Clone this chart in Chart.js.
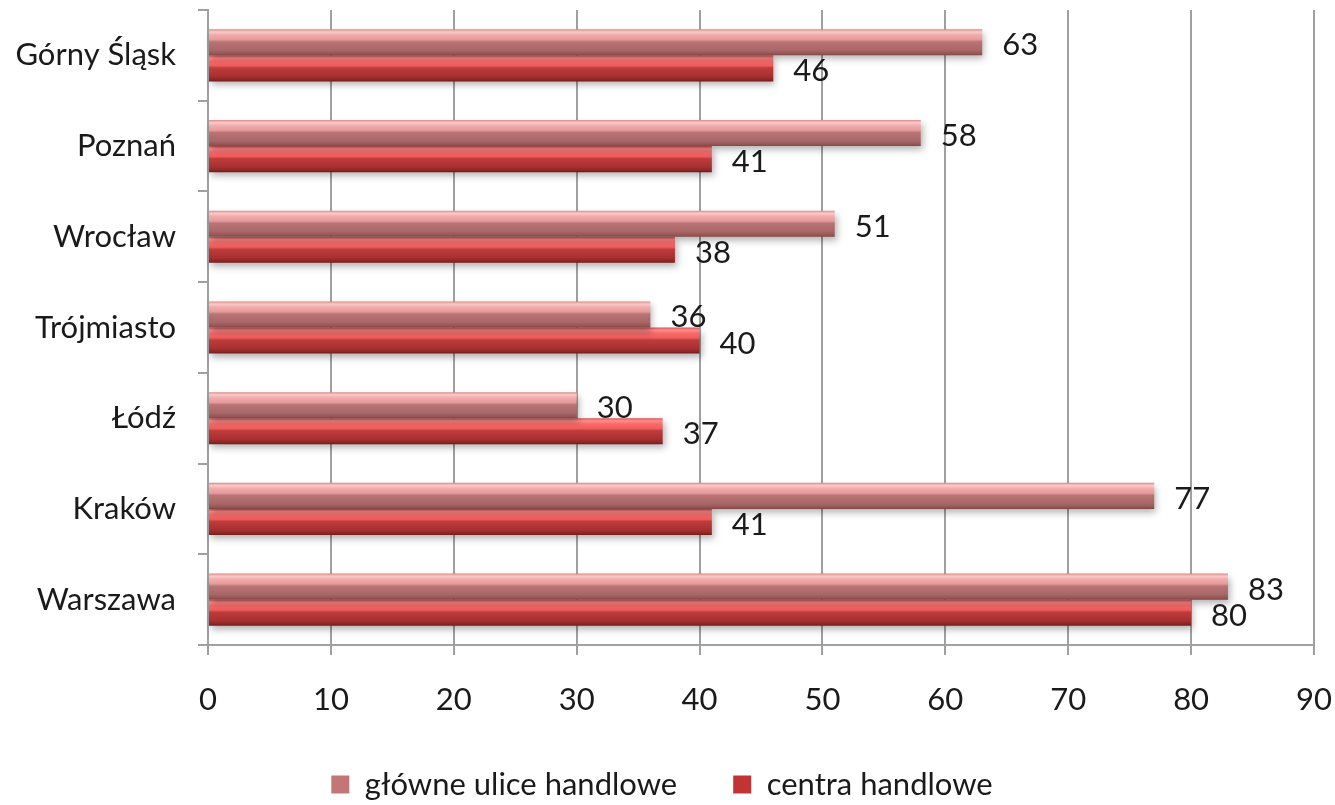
<!DOCTYPE html>
<html>
<head>
<meta charset="utf-8">
<script src="https://cdn.jsdelivr.net/npm/chart.js@4/dist/chart.umd.min.js"></script>
<style>
html,body{margin:0;padding:0;background:#fff;}
#wrap{width:1335px;height:805px;}
</style>
</head>
<body>
<div id="wrap"><canvas id="c" width="1335" height="805"></canvas></div>
<script>
const categories = ['Górny Śląsk','Poznań','Wrocław','Trójmiasto','Łódź','Kraków','Warszawa'];
const glowneUlice = [63,58,51,36,30,77,83];
const centraHandlowe = [46,41,38,40,37,41,80];
const seriesNames = ['główne ulice handlowe','centra handlowe'];
const xTicks = [0,10,20,30,40,50,60,70,80,90];

const FONT = 'Lato, "Open Sans", sans-serif';
const FS = 31;

const palettes = [
  [[0,'#d98a8a'],[0.1,'#fbcaca'],[0.22,'#f2abab'],[0.4,'#e49a9a'],[0.48,'#b97474'],[0.8,'#a96767'],[0.93,'#965656'],[1,'#7e4646']],
  [[0,'#d85252'],[0.1,'#ff8e8e'],[0.22,'#f96a6a'],[0.4,'#ef5c5c'],[0.48,'#bf3b3b'],[0.8,'#a83030'],[0.93,'#8c2626'],[1,'#6e1c1c']]
];

const barStyle = {
  id:'barStyle',
  beforeLayout(chart){
    const lg = chart.legend;
    if (lg && !lg._patched){
      const orig = lg.fit;
      lg.fit = function(){ orig.call(this); this.height = 92; };
      lg._patched = true;
    }
  },
  beforeDatasetDraw(chart, args){
    const ctx = chart.ctx;
    const meta = args.meta;
    const pal = palettes[args.index];
    const area = chart.chartArea;
    meta.data.forEach(el=>{
      const top = el.y - el.height/2, bot = el.y + el.height/2;
      const g = ctx.createLinearGradient(0, top, 0, bot);
      pal.forEach(s=>g.addColorStop(s[0], s[1]));
      el.options.backgroundColor = g;
      ctx.save();
      ctx.shadowColor = 'rgba(0,0,0,0.30)';
      ctx.shadowBlur = 7;
      ctx.shadowOffsetY = 4;
      ctx.shadowOffsetX = 2;
      el.draw(ctx, area);
      ctx.restore();
    });
    return false;
  },
  afterDatasetsDraw(chart){
    const ctx = chart.ctx;
    ctx.save();
    ctx.font = FS + 'px ' + FONT;
    ctx.fillStyle = '#1a1a1a';
    ctx.textAlign = 'left';
    ctx.textBaseline = 'middle';
    chart.data.datasets.forEach((ds, i)=>{
      const meta = chart.getDatasetMeta(i);
      meta.data.forEach((el, j)=>{
        ctx.fillText(String(ds.data[j]), el.x + 20, el.y + 3);
      });
    });
    ctx.restore();
  }
};

new Chart(document.getElementById('c'), {
  type:'bar',
  data:{
    labels: categories,
    datasets:[
      {label: seriesNames[0], data: glowneUlice, backgroundColor:'#c27676', borderWidth:0},
      {label: seriesNames[1], data: centraHandlowe, backgroundColor:'#c23434', borderWidth:0}
    ]
  },
  options:{
    indexAxis:'y',
    responsive:false,
    animation:false,
    devicePixelRatio:1,
    layout:{padding:{top:10,right:21,bottom:0,left:10}},
    datasets:{bar:{categoryPercentage:0.575, barPercentage:1.0}},
    scales:{
      x:{
        min:0, max:90,
        afterBuildTicks(scale){ scale.ticks = xTicks.map(v=>({value:v})); },
        grid:{color:'#a0a0a0', lineWidth:2, drawTicks:true, tickLength:10, tickColor:'#a0a0a0'},
        border:{display:true, color:'#a0a0a0', width:2},
        ticks:{font:{family:FONT,size:FS}, color:'#1a1a1a', padding:26, maxRotation:0},
        afterFit(scale){ scale.height = 68; scale.paddingLeft = 0; scale.paddingRight = 0; }
      },
      y:{
        grid:{drawOnChartArea:false, drawTicks:true, tickLength:10, color:'#a0a0a0', lineWidth:2, offset:true},
        border:{display:true, color:'#a0a0a0', width:2},
        ticks:{font:{family:FONT,size:FS}, color:'#1a1a1a', padding:22},
        afterFit(scale){ scale.width = 198; scale.paddingTop = 0; scale.paddingBottom = 0; }
      }
    },
    plugins:{
      legend:{
        position:'bottom',
        labels:{font:{family:FONT,size:FS}, color:'#1a1a1a', boxWidth:18, boxHeight:18, padding:56}
      },
      tooltip:{enabled:false}
    }
  },
  plugins:[barStyle]
});
</script>
</body>
</html>
